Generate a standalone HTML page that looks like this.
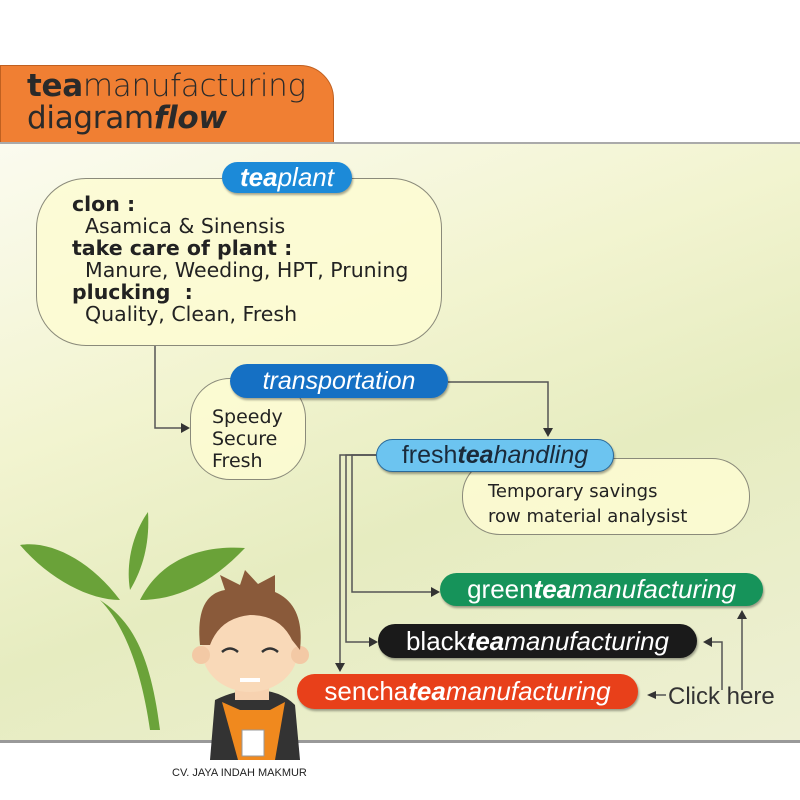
<!DOCTYPE html>
<html><head><meta charset="utf-8"><style>
body{margin:0;width:800px;height:800px;background:#fff;position:relative;overflow:hidden;font-family:"Liberation Sans",sans-serif}
.abs{position:absolute}
.pill{position:absolute;border-radius:18px;color:#fff;font-style:italic;display:flex;align-items:center;justify-content:center;box-shadow:1px 2px 2px rgba(0,0,0,.35);white-space:nowrap}
.box{position:absolute;background:rgba(253,251,210,.85);border:1.5px solid #8a8a7a}
.txt{font-family:"DejaVu Sans",sans-serif;color:#222}
</style></head><body>
<div class="abs" style="left:0;top:65px;width:332px;height:78px;background:#f07f33;border-radius:0 34px 0 0;border:1px solid #c06020"></div>
<div class="abs" style="left:27px;top:70px;font-size:31px;line-height:32px;color:#2a2a2a;font-family:'DejaVu Sans',sans-serif;letter-spacing:-0.3px">
<span style="font-weight:bold">tea</span><span style="font-weight:300">manufacturing</span><br><span>diagram</span><i style="font-weight:bold">flow</i></div>
<div class="abs" style="left:0;top:142px;width:800px;height:596px;background:linear-gradient(160deg,#fbfbef 0%,#f2f4d0 35%,#e6ecc0 60%,#eef0d4 100%);border-top:2px solid #aaa;border-bottom:3px solid #999"></div>
<svg class="abs" style="left:0;top:0" width="800" height="800">
<g fill="#5d9a2a" opacity=".9">
<path d="M150 730 C140 660 120 620 100 600 C130 620 150 650 160 730Z"/>
<path d="M120 600 C90 560 50 540 20 545 C50 580 90 600 120 600Z"/>
<path d="M140 600 C160 560 200 545 245 548 C210 585 175 600 140 600Z"/>
<path d="M130 590 C125 560 135 530 148 512 C150 545 142 570 130 590Z"/>
</g>
<g stroke="#555" stroke-width="1.5" fill="none">
<path d="M155 345 V428 H182"/>
<path d="M448 382 H548 V430"/>
<path d="M376 455 H340 V665"/>
<path d="M376 455 H346 V642 H370"/>
<path d="M376 455 H352 V592 H432"/>
<path d="M742 690 V618"/>
<path d="M722 690 V642 H712"/>
<path d="M666 695 H655"/>
</g>
<g fill="#333">
<path d="M190 428 l-9 -5 v10z"/><path d="M548 437 l-5 -9 h10z"/><path d="M340 672 l-5 -9 h10z"/>
<path d="M378 642 l-9 -5 v10z"/><path d="M440 592 l-9 -5 v10z"/><path d="M742 610 l-5 9 h10z"/>
<path d="M703 642 l9 -5 v10z"/><path d="M647 695 l9 -4 v8z"/>
</g>
</svg>
<div class="box" style="left:36px;top:178px;width:404px;height:166px;border-radius:50px"></div>
<div class="abs txt" style="left:72px;top:193px;font-size:20.5px;line-height:22px">
<b>clon :</b><br>&nbsp;&nbsp;Asamica &amp; Sinensis<br><b>take care of plant :</b><br>&nbsp;&nbsp;Manure, Weeding, HPT, Pruning<br><b>plucking&nbsp; :</b><br>&nbsp;&nbsp;Quality, Clean, Fresh</div>
<div class="pill" style="left:222px;top:162px;width:130px;height:31px;background:#1c8ad8;font-size:26px"><b>tea</b>plant</div>
<div class="box" style="left:190px;top:378px;width:114px;height:100px;border-radius:40px"></div>
<div class="abs txt" style="left:212px;top:406px;font-size:19px;line-height:22px">Speedy<br>Secure<br>Fresh</div>
<div class="pill" style="left:230px;top:364px;width:218px;height:34px;background:#1570c4;font-size:25px">transportation</div>
<div class="box" style="left:462px;top:458px;width:286px;height:75px;border-radius:38px"></div>
<div class="abs txt" style="left:488px;top:479px;font-size:18px;line-height:25px">Temporary savings<br>row material analysist</div>
<div class="pill" style="left:376px;top:439px;width:236px;height:31px;background:#6cc4f0;color:#1a2a3a;font-size:25px;border:1px solid #2a6a9a"><span style="font-style:normal">fresh</span><b>tea</b>handling</div>
<div class="pill" style="left:440px;top:573px;width:323px;height:33px;background:#16935a;font-size:26px"><span style="font-style:normal">green</span><b>tea</b>manufacturing</div>
<div class="pill" style="left:378px;top:624px;width:319px;height:34px;background:#1a1a1a;font-size:26px"><span style="font-style:normal">black</span><b>tea</b>manufacturing</div>
<div class="pill" style="left:297px;top:674px;width:341px;height:35px;background:#e8401a;font-size:26px"><span style="font-style:normal">sencha</span><b>tea</b>manufacturing</div>
<div class="abs" style="left:668px;top:683px;font-size:24px;color:#333">Click here</div>
<svg class="abs" style="left:180px;top:570px" width="130" height="200">
<path d="M35 130 Q55 120 75 120 Q100 120 115 135 L120 190 L30 190Z" fill="#333"/>
<path d="M42 132 L58 190 L95 190 L105 132 L90 140 L60 140Z" fill="#f0891e"/>
<rect x="55" y="100" width="34" height="30" fill="#f7d2b0"/>
<ellipse cx="70" cy="80" rx="48" ry="42" fill="#f9d9b8"/>
<circle cx="21" cy="85" r="9" fill="#f3c9a5"/><circle cx="120" cy="85" r="9" fill="#f3c9a5"/>
<path d="M20 75 Q15 25 45 20 L40 5 L60 15 L65 0 L78 14 L95 5 L95 22 Q125 35 120 80 L112 70 Q100 45 70 45 Q40 48 30 75Z" fill="#8a5a3a"/>
<path d="M42 82 q8 -7 16 0 M82 82 q8 -7 16 0" stroke="#333" stroke-width="2.5" fill="none"/>
<path d="M60 110 h20" stroke="#fff" stroke-width="4"/>
<rect x="62" y="160" width="22" height="26" fill="#fff" stroke="#999"/>
</svg>
<div class="abs" style="left:172px;top:767px;font-size:11px;color:#222">CV. JAYA INDAH MAKMUR</div>
</body></html>
